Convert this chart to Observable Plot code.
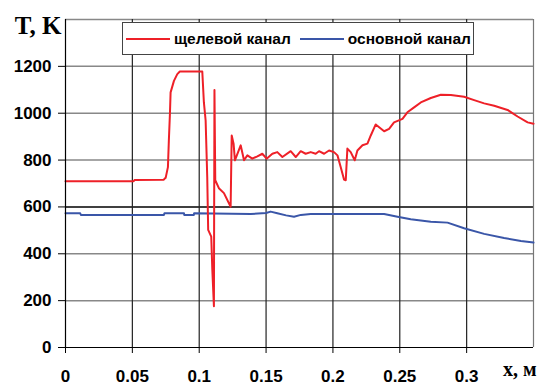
<!DOCTYPE html>
<html><head><meta charset="utf-8">
<script src="https://cdn.jsdelivr.net/npm/d3@7"></script>
<script src="https://cdn.jsdelivr.net/npm/@observablehq/plot@0.6"></script>
<style>
body{margin:0;background:#fff}
#wrap{position:relative;width:548px;height:385px}
.legend{position:absolute;left:122px;top:22px;width:352px;height:33px;box-sizing:border-box;border:1px solid #444;background:#fff;display:flex;align-items:center;font:bold 15.5px "Liberation Sans",Arial,sans-serif;color:#000;white-space:nowrap}
.sw{display:inline-block;width:44px;height:2px;margin:0 4px}
</style>
</head><body>
<div id="wrap"></div>
<script>
const seriesNames = ["щелевой канал", "основной канал"];
const seriesColors = ["#ee2028", "#3a56a8"];
const xTicks = [0, 0.05, 0.1, 0.15, 0.2, 0.25, 0.3];
const yTicks = [0, 200, 400, 600, 800, 1000, 1200];
const yGrid = [200, 400, 600, 800, 1000, 1200, 1400];
const xGrid = [0.05, 0.1, 0.15, 0.2, 0.25, 0.3, 0.35];

const redX = [0, 0.051, 0.0516, 0.0735, 0.074, 0.0749, 0.0766, 0.0773, 0.0781, 0.0786, 0.0811, 0.0836, 0.0855, 0.1023, 0.1035, 0.1048, 0.106, 0.1067, 0.109, 0.1098, 0.111, 0.1114, 0.112, 0.1147, 0.1185, 0.1235, 0.1243, 0.1257, 0.1267, 0.131, 0.1335, 0.136, 0.1397, 0.1435, 0.1472, 0.1504, 0.1547, 0.1584, 0.1622, 0.1684, 0.1722, 0.1759, 0.1796, 0.1834, 0.1871, 0.1896, 0.1934, 0.1971, 0.2008, 0.2034, 0.2058, 0.2083, 0.2096, 0.2108, 0.2133, 0.2163, 0.2183, 0.2221, 0.2258, 0.2283, 0.232, 0.2383, 0.242, 0.2457, 0.252, 0.2557, 0.2607, 0.2657, 0.2732, 0.2807, 0.2882, 0.2981, 0.3056, 0.3131, 0.3206, 0.3306, 0.3381, 0.3456, 0.35];
const redT = [710, 710, 715, 716, 720, 724, 770, 884, 998, 1089, 1138, 1167, 1178, 1178, 1046, 969, 728, 502, 473, 332, 176, 1099, 714, 680, 659, 601, 905, 870, 799, 863, 799, 820, 806, 816, 827, 806, 827, 834, 813, 838, 813, 838, 827, 834, 827, 838, 827, 841, 834, 820, 770, 717, 714, 849, 834, 799, 841, 863, 870, 905, 952, 923, 933, 961, 976, 1004, 1025, 1046, 1065, 1079, 1078, 1070, 1056, 1042, 1032, 1014, 986, 961, 955];

const blueX = [0, 0.011, 0.0115, 0.0736, 0.074, 0.0886, 0.0888, 0.096, 0.0962, 0.1385, 0.150, 0.1534, 0.1584, 0.165, 0.1709, 0.176, 0.1834, 0.2383, 0.2483, 0.2582, 0.2732, 0.2857, 0.2981, 0.3131, 0.328, 0.3406, 0.35];
const blueT = [573, 573, 566, 566, 573, 573, 566, 566, 573, 570, 574, 580, 573, 564, 558, 566, 570, 570, 558, 547, 537, 533, 509, 485, 467, 455, 448];

const red = redX.map((x, i) => ({x, t: redT[i]}));
const blue = blueX.map((x, i) => ({x, t: blueT[i]}));

const chart = Plot.plot({
  width: 548, height: 385,
  marginLeft: 65, marginRight: 15, marginTop: 19, marginBottom: 38,
  x: {domain: [0, 0.35]},
  y: {domain: [0, 1400]},
  style: {fontFamily: '"Liberation Sans", Arial, sans-serif', fontSize: "17px", fontWeight: "bold", background: "#fff", color: "#000"},
  marks: [
    Plot.ruleY(yGrid, {stroke: d => d === 600 ? "#000" : "#888", strokeWidth: 1.5}),
    Plot.ruleX(xGrid, {stroke: d => d === 0.35 ? "#777" : "#222", strokeWidth: 1.2}),
    Plot.line(blue, {x: "x", y: "t", stroke: seriesColors[1], strokeWidth: 2}),
    Plot.line(red, {x: "x", y: "t", stroke: seriesColors[0], strokeWidth: 2}),
    Plot.ruleX([0], {stroke: "#000", strokeWidth: 1.2}),
    Plot.ruleY([0], {stroke: "#000", strokeWidth: 1.2}),
    Plot.axisX({ticks: xTicks, tickSize: 6, tickPadding: 16, label: null, tickFormat: d => String(d)}),
    Plot.axisY({ticks: yTicks, tickSize: 7, tickPadding: 7, label: null, tickFormat: d => String(d)}),
    Plot.text(["T, K"], {text: d => d, frameAnchor: "top-left", textAnchor: "end", lineAnchor: "bottom", dx: -4, dy: 14, fontFamily: '"Liberation Serif", "Times New Roman", serif', fontSize: 25, fontWeight: "bold"}),
    Plot.text(["x, м"], {text: d => d, frameAnchor: "bottom-right", textAnchor: "end", lineAnchor: "bottom", dx: 3, dy: 28, fontFamily: '"Liberation Serif", "Times New Roman", serif', fontSize: 20, fontWeight: "bold"})
  ]
});

const wrap = document.getElementById("wrap");
wrap.appendChild(chart);
const leg = document.createElement("div");
leg.className = "legend";
leg.innerHTML = `<span class="sw" style="background:${seriesColors[0]};margin-left:3px"></span><span>${seriesNames[0]}</span><span class="sw" style="background:${seriesColors[1]};margin-left:9px"></span><span>${seriesNames[1]}</span>`;
wrap.appendChild(leg);
</script>
</body></html>
